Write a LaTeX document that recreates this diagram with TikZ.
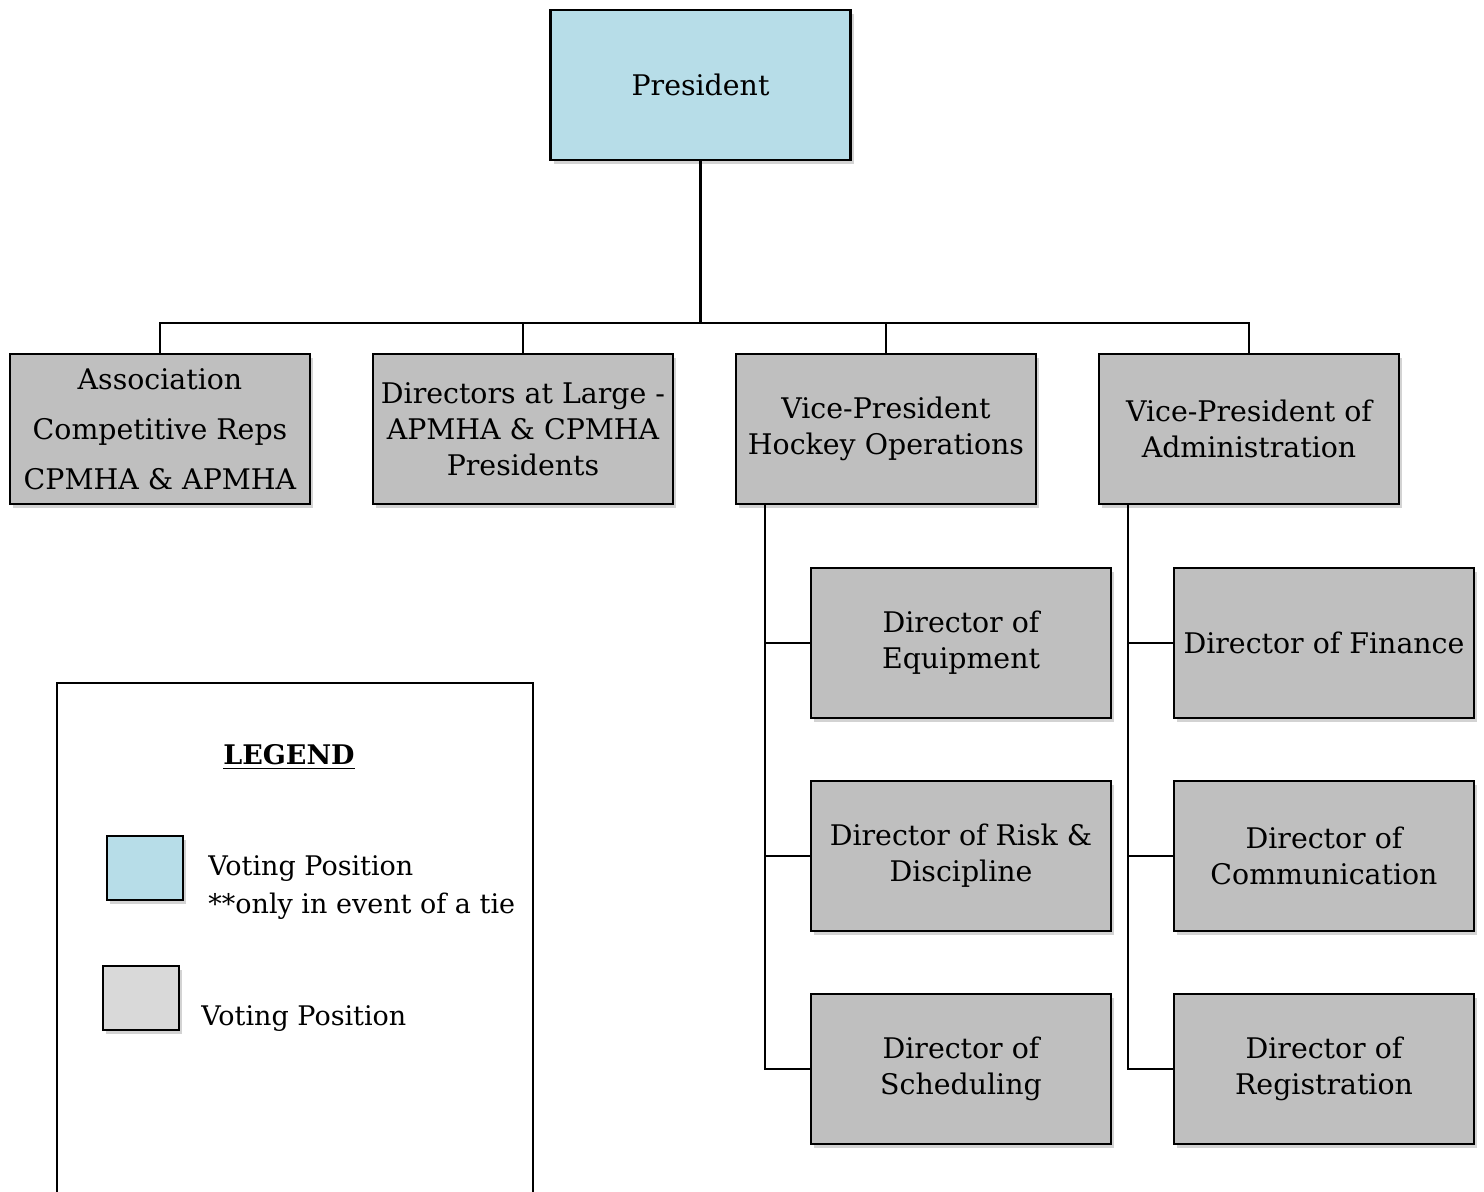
\documentclass[tikz,border=0pt]{standalone}
\usepackage{fontspec}
\setmainfont{DejaVu Serif}
\usepackage{tikz}
\usetikzlibrary{positioning,shadows}

\definecolor{presblue}{RGB}{183,221,232}
\definecolor{boxgray}{RGB}{191,191,191}
\definecolor{keygray}{RGB}{217,217,217}

\begin{document}
\begin{tikzpicture}[
    x=0.5pt,y=-0.5pt,
    box/.style={rectangle,draw,fill=boxgray,minimum width=150pt,minimum height=75pt,align=center,
      inner sep=1pt,line width=1.1pt,font=\fontsize{14.2}{18}\selectfont,
      drop shadow={shadow xshift=1.5pt,shadow yshift=-2pt,opacity=0.35}},
    keybox/.style={rectangle,draw,line width=1.1pt,minimum width=38pt,minimum height=32pt,
      drop shadow={shadow xshift=1.5pt,shadow yshift=-2pt,opacity=0.35}},
    keytext/.style={align=left,anchor=west,inner sep=0pt,font=\fontsize{13.5}{19}\selectfont},
    link/.style={line width=1.1pt},
    node distance=30.4pt
]
    \useasboundingbox (0,0) rectangle (1484,1192);

    % Top
    \node[box,fill=presblue] (pres) at (700.5,85) {\raisebox{-2pt}{President}};

    % Second row
    \node[box] (assoc) at (160,429) {Association\\[7pt]Competitive Reps\\[7pt]CPMHA \& APMHA};
    \node[box,right=of assoc] (dirs) {Directors at Large -\\APMHA \& CPMHA\\Presidents};
    \node[box,right=of dirs] (vpops) {Vice-President\\Hockey Operations};
    \node[box,right=of vpops] (vpadmin) {Vice-President of\\Administration};

    % Directors
    \node[box] (equip) at (961,643) {Director of\\Equipment};
    \node[box,below=of equip] (risk) {Director of Risk \&\\Discipline};
    \node[box,below=of risk] (sched) {Director of\\Scheduling};
    \node[box] (finance) at (1324,643) {Director of Finance};
    \node[box,below=of finance] (comm) {Director of\\Communication};
    \node[box,below=of comm] (reg) {Director of\\Registration};

    % Connectors
    \coordinate (bus) at (700.5,323);
    \draw[link] (pres.south) -- (bus);
    \draw[link] (assoc.north) |- (bus) -| (vpadmin.north);
    \draw[link] (dirs.north) -- (dirs.north |- bus);
    \draw[link] (vpops.north) -- (vpops.north |- bus);

    \coordinate (opsline) at ([xshift=15pt]vpops.south west);
    \coordinate (admline) at ([xshift=15pt]vpadmin.south west);
    \draw[link] (opsline) |- (sched.west);
    \draw[link] (admline) |- (reg.west);
    \foreach \n in {equip,risk}
        \draw[link] (\n.west) -- (\n.west -| opsline);
    \foreach \n in {finance,comm}
        \draw[link] (\n.west) -- (\n.west -| admline);

    % Legend
    \draw[line width=1.1pt] (57,1192) -- (57,683) -- (533,683) -- (533,1192);
    \node[font=\fontsize{13.5}{18}\selectfont] (legend) at (289,757) {\underline{\textbf{LEGEND}}};
    \node[keybox,fill=presblue] (keyblue) at (145,868) {};
    \node[keybox,fill=keygray] (keygray) at (141,998) {};
    \node[keytext] (keybluetext) at (208,888) {Voting Position\\**only in event of a tie};
    \node[keytext] (keygraytext) at (201,1019) {Voting Position};
\end{tikzpicture}
\end{document}
